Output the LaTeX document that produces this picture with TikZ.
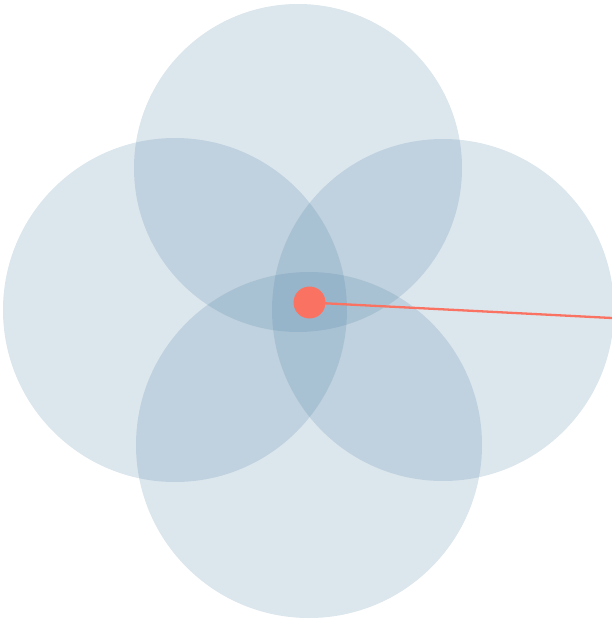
\documentclass[tikz,border=0pt]{standalone}
\usepackage{tikz}
\usetikzlibrary{positioning}
\definecolor{zoneblue}{RGB}{80,130,165}
\definecolor{pointred}{RGB}{250,115,98}

\begin{document}
\begin{tikzpicture}[x=1pt,y=-1pt,
  zone/.style={circle,fill=zoneblue,fill opacity=0.2,inner sep=0pt,outer sep=0pt},
  marker/.style={circle,fill=pointred,inner sep=0pt,minimum size=32pt}]
\useasboundingbox (0,0) rectangle (612,621);
% four overlapping ranges
\node[zone,minimum size=328pt] (topzone) at (298,168) {};
\node[zone,minimum size=344pt] (leftzone) at (175,310) {};
\node[zone,minimum size=342pt] (rightzone) at (443,310) {};
\node[zone,minimum size=346pt] (bottomzone) at (309,445) {};
% located point and its bearing line
\coordinate (edge) at (612,318);
\draw[pointred,line width=2.3pt] (309.5,302.5) -- (edge);
\node[marker] (point) at (309.5,302.5) {};
\end{tikzpicture}
\end{document}
